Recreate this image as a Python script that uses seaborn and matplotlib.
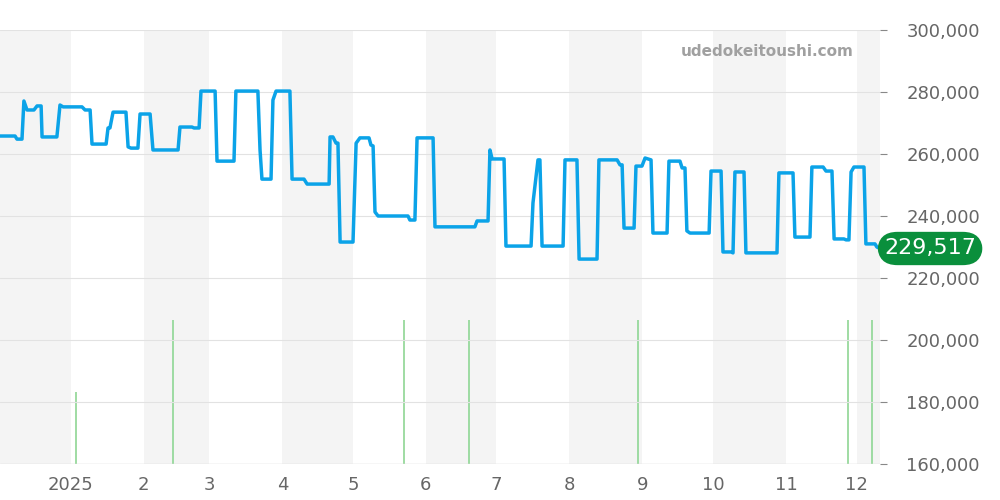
import pandas as pd
import numpy as np
import matplotlib
matplotlib.use("Agg")
import matplotlib.pyplot as plt
import seaborn as sns

start = pd.Timestamp("2024-12-02")

# price series: days since start, price in thousands of yen
price_days = [0, 6.3, 7.1, 9.2, 10.0, 11.3, 14.2, 15.5, 17.2, 17.6, 23.8, 25.1, 26.4, 34.3, 35.6, 37.7,
              38.5, 44.4, 45.2, 46.0, 47.3, 52.7, 53.6, 54.8, 57.7, 58.6, 62.8, 64.0, 74.5, 75.3, 80.3,
              81.2, 83.3, 84.1, 90.0, 90.8, 97.9, 98.7, 107.9, 108.8, 109.6, 113.4, 114.2, 115.5, 121.3,
              122.2, 127.2, 128.5, 137.7, 138.1, 139.3, 140.6, 141.4, 142.3, 147.7, 149.0, 150.6, 154.4,
              155.2, 156.1, 156.9, 158.2, 170.7, 171.5, 173.6, 174.5, 181.2, 182.0, 198.7, 199.6, 204.2,
              205.0, 205.9, 210.9, 211.7, 222.2, 223.0, 225.1, 225.9, 226.8, 235.6, 236.4, 241.4, 242.3,
              249.8, 250.6, 258.2, 259.4, 260.3, 261.1, 265.3, 266.1, 268.6, 269.9, 272.4, 273.2, 279.1,
              279.9, 284.5, 285.4, 286.6, 287.4, 288.7, 296.7, 297.5, 301.7, 302.5, 305.9, 306.7, 307.5,
              311.3, 312.1, 325.1, 325.9, 331.8, 332.6, 338.9, 339.7, 344.4, 345.6, 348.1, 349.0, 353.1,
              354.0, 355.2, 356.1, 357.3, 361.5, 362.3, 366.1, 366.9, 368.2]
price_k = [265.8, 265.8, 264.8, 264.8, 277.1, 274.2, 274.2, 275.5, 275.5, 265.5, 265.5, 275.8, 275.2, 275.2,
           274.2, 274.2, 263.2, 263.2, 268.4, 268.4, 273.5, 273.5, 262.3, 261.9, 261.9, 272.9, 272.9, 261.3,
           261.3, 268.7, 268.7, 268.4, 268.4, 280.3, 280.3, 257.7, 257.7, 280.3, 280.3, 261.3, 251.9, 251.9,
           277.4, 280.3, 280.3, 251.9, 251.9, 250.3, 250.3, 265.5, 265.5, 263.5, 263.5, 231.6, 231.6, 263.5,
           265.2, 265.2, 262.9, 262.6, 241.3, 240.0, 240.0, 238.7, 238.7, 265.2, 265.2, 236.5, 236.5, 238.4,
           238.4, 261.3, 258.4, 258.4, 230.3, 230.3, 244.2, 258.1, 258.1, 230.3, 230.3, 258.1, 258.1, 226.1,
           226.1, 258.1, 258.1, 256.5, 256.5, 236.1, 236.1, 256.1, 256.1, 258.7, 258.1, 234.5, 234.5, 257.7,
           257.7, 255.5, 255.5, 235.2, 234.5, 234.5, 254.5, 254.5, 228.4, 228.4, 228.1, 254.2, 254.2, 228.1,
           228.1, 253.9, 253.9, 233.2, 233.2, 255.8, 255.8, 254.5, 254.5, 232.6, 232.6, 232.3, 232.3, 254.2,
           255.8, 255.8, 231.0, 231.0, 230.0, 229.5]

# transactions (volume)
vol_days = [31.8, 72.4, 169.0, 196.2, 266.9, 354.8, 364.9]
vol_count = [1, 2, 2, 2, 2, 2, 2]

last_price = 229517
month_ticks = ["2025-01-01", "2025-02-01", "2025-03-01", "2025-04-01", "2025-05-01", "2025-06-01",
               "2025-07-01", "2025-08-01", "2025-09-01", "2025-10-01", "2025-11-01", "2025-12-01"]
month_labels = ["2025", "2", "3", "4", "5", "6", "7", "8", "9", "10", "11", "12"]

# day readings were taken on a slightly too-coarse scale; correct them
SCALE = 1.0157
df = pd.DataFrame({"date": start + pd.to_timedelta(np.array(price_days) * SCALE, unit="D"),
                   "price": np.array(price_k) * 1000})
vol = pd.DataFrame({"date": start + pd.to_timedelta(np.array(vol_days) * SCALE, unit="D"), "n": vol_count})

sns.set_style("white")
fig = plt.figure(figsize=(10, 5), dpi=100)
ax = fig.add_axes([0, 0.072, 0.88, 0.868])
x0, x1 = start, start + pd.Timedelta(days=368.2 * SCALE)

ax2 = ax.twinx()
# shaded even months (on the back axis so the volume bars stay visible)
for m in pd.date_range("2024-12-01", "2025-12-01", freq="2MS"):
    ax2.axvspan(max(m, x0), min(m + pd.offsets.MonthBegin(1), x1), color="#f4f4f4", lw=0, zorder=0)
ax2.vlines(vol["date"], 0, vol["n"], color="#8fd694", lw=1.2, zorder=2)
ax2.set_ylim(0, 6.03)
ax2.axis("off")

sns.lineplot(data=df, x="date", y="price", ax=ax, color="#0ba3e8", lw=2.5, zorder=3)
ax.set_zorder(ax2.get_zorder() + 1)
ax.patch.set_visible(False)

ax.set_xlim(x0, x1)
ax2.set_xlim(x0, x1)
ax.set_ylim(160000, 300000)
ax.yaxis.tick_right()
ax.set_yticks(range(160000, 300001, 20000))
ax.yaxis.set_major_formatter(matplotlib.ticker.FuncFormatter(lambda v, p: f"{int(v):,}"))
ax.set_xticks(pd.to_datetime(month_ticks))
ax.set_xticklabels(month_labels)
ax.tick_params(axis="both", colors="#888888", labelcolor="#666666", labelsize=13, length=5, direction="out")
ax.tick_params(axis="y", pad=14)
ax.grid(axis="y", color="#e2e2e2", lw=0.8)
ax.set_xlabel("")
ax.set_ylabel("")
for s in ax.spines.values():
    s.set_visible(False)
ax.axhline(160000, color="#dddddd", lw=1)

ax.text(0.97, 0.95, "udedokeitoushi.com", transform=ax.transAxes, ha="right", va="center",
        color="#a0a0a0", fontsize=11, fontweight="bold")
ax.annotate(f"{last_price:,}", xy=(1.0, last_price), xycoords=("axes fraction", "data"),
            xytext=(3, 0), textcoords="offset points", ha="left", va="center", color="white",
            fontsize=16, bbox=dict(boxstyle="round,pad=0.3,rounding_size=0.9", fc="#0a8f3c", ec="none"),
            annotation_clip=False, zorder=5)

fig.savefig("out.png", dpi=100)
